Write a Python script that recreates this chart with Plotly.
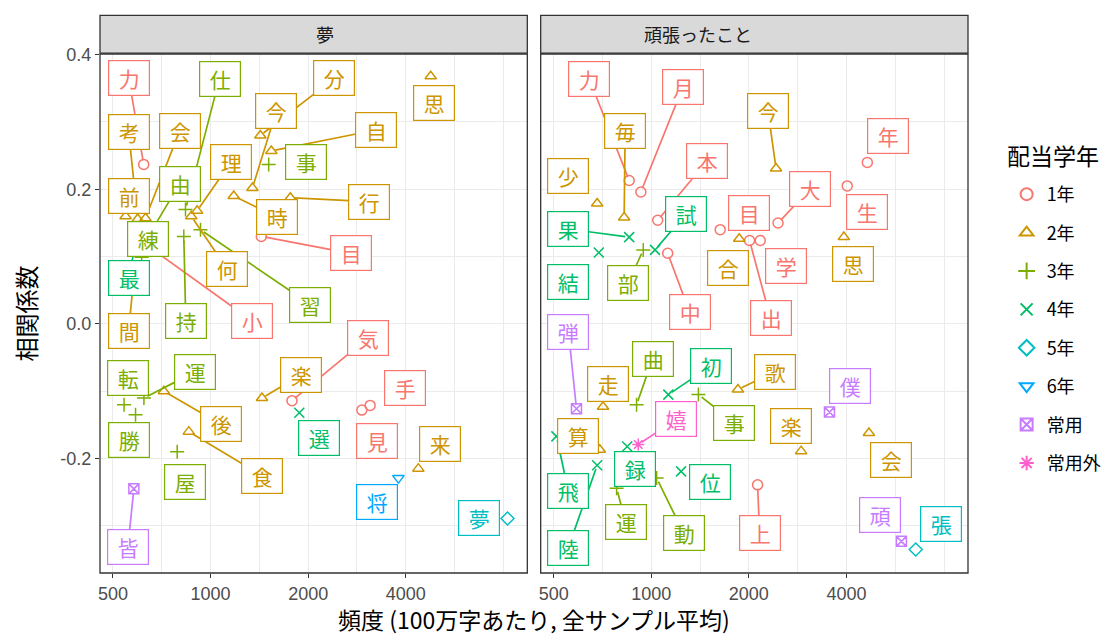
import math
import plotly.graph_objects as go

# ---------------- data ----------------
grades = ["1年", "2年", "3年", "4年", "5年", "6年", "常用", "常用外"]
grade_colors = ["#F8766D", "#CD9600", "#7CAE00", "#00BE67", "#00BFC4", "#00A9FF", "#C77CFF", "#FF61CC"]
grade_symbols = ["circle-open", "triangle-up-open", "cross-thin-open", "x-thin-open",
                 "diamond-open", "triangle-down-open", "square-x-open", "asterisk-open"]

facet_titles = ["夢", "頑張ったこと"]

# facet 1: 夢
yume_kanji = ["力", "考", "会", "前", "仕", "分", "今", "自", "時", "行", "事", "目", "理", "何", "習",
              "由", "練", "小", "最", "間", "持", "転", "運", "勝", "後", "楽", "気", "選", "手", "見",
              "来", "屋", "食", "将", "夢", "皆", "思"]
yume_grade = ["1年", "2年", "2年", "2年", "3年", "2年", "2年", "2年", "2年", "2年", "3年", "1年", "2年", "2年", "3年",
              "3年", "3年", "1年", "4年", "2年", "3年", "3年", "3年", "3年", "2年", "2年", "1年", "4年", "1年", "1年",
              "2年", "3年", "2年", "6年", "5年", "常用", "2年"]
yume_freq = [622, 596, 630, 547, 837, 1424, 1346, 1540, 1179, 1762, 1511, 1434, 909, 872, 931,
             644, 613, 662, 587, 575, 827, 541, 623, 587, 718, 1441, 1783, 1878, 3106, 2929,
             4375, 789, 857, 3796, 8241, 580, 4775]
yume_corr = [0.237, 0.156, 0.157, 0.160, 0.170, 0.280, 0.202, 0.257, 0.190, 0.1875, 0.237, 0.130, 0.168, 0.160, 0.140,
             0.131, 0.099, 0.111, 0.119, 0.051, 0.130, -0.120, -0.110, -0.135, -0.100, -0.110, -0.114, -0.132, -0.121, -0.128,
             -0.215, -0.190, -0.160, -0.229, -0.289, -0.245, 0.368]

# facet 2: 頑張ったこと
gamb_kanji = ["力", "月", "毎", "今", "年", "少", "本", "大", "生", "試", "目", "思", "果", "結", "部",
              "中", "出", "合", "学", "弾", "曲", "走", "初", "事", "歌", "楽", "僕", "嬉", "算", "飛",
              "陸", "録", "運", "動", "位", "上", "会", "頑", "張"]
gamb_grade = ["1年", "1年", "2年", "2年", "1年", "2年", "1年", "1年", "1年", "4年", "1年", "2年", "4年", "4年", "3年",
              "1年", "1年", "2年", "1年", "常用", "3年", "2年", "4年", "3年", "2年", "2年", "常用", "常用外", "2年", "4年",
              "4年", "4年", "3年", "3年", "4年", "1年", "2年", "常用", "5年"]
gamb_freq = [855, 929, 825, 2426, 4640, 681, 1047, 2461, 4023, 1027, 1632, 3927, 855, 689, 945,
             1124, 2010, 1868, 2169, 588, 901, 710, 1129, 1398, 1851, 2899, 3546, 912, 694, 510,
             681, 843, 782, 1039, 1236, 2128, 4693, 5910, 6544]
gamb_corr = [0.213, 0.196, 0.158, 0.231, 0.240, 0.179, 0.154, 0.150, 0.205, 0.110, 0.140, 0.129, 0.129, 0.106, 0.110,
             0.105, 0.124, 0.1265, 0.124, -0.126, -0.120, -0.123, -0.105, -0.105, -0.0975, -0.189, -0.131, -0.179, -0.187, -0.167,
             -0.210, -0.182, -0.244, -0.229, -0.219, -0.239, -0.162, -0.323, -0.335]

# ---------------- label placement (repelled offsets, px) ----------------
yume_label_dx = [-15, -9, 34, 3, 34, 74, 24, 105, 43, 79, 37, 90, 34, 36, 110,
                 31, 6, 100, -7, -4, 2, 4, 51, -7, 57, 39, 76, 20, 35, 15,
                 22, 8, 73, -21, -29, -6, 3]
yume_label_dy = [-86, -87, -87, -20, -131, -57, -77, -21, 21, 4, -2, 17, -49, 53, 75,
                 -52, -18, 72, 34, 41, 85, -27, -26, 25, 33, -23, -63, 25, -17, 31,
                 -25, 30, 44, 24, 0, 58, 27]
yume_segment = [1, 1, 1, 0, 1, 1, 1, 1, 1, 1, 0, 1, 1, 1, 1,
                1, 0, 1, 1, 1, 1, 0, 1, 0, 1, 1, 1, 0, 0, 0,
                0, 0, 1, 0, 0, 1, 0]

gamb_label_dx = [-40, 42, 1, -8, 21, -29, 49, 32, 20, 31, 29, 9, -61, -31, -15,
                 22, 21, -11, 26, -8, 16, 5, 43, 36, 37, -10, 21, 38, -22, 12,
                 -29, 8, 9, 27, 29, 2, 22, -21, 25]
gamb_label_dy = [-102, -105, -87, -57, -26, -27, -59, -34, 26, -36, -17, 27, -8, 29, 33,
                 59, 78, 29, 26, -77, -46, -23, -29, 28, -18, -25, -26, -25, -14, 55,
                 83, 23, 34, 55, 11, 48, 27, -26, -25]
gamb_segment = [1, 1, 1, 1, 0, 0, 1, 1, 0, 1, 0, 0, 1, 0, 1,
                1, 1, 0, 0, 1, 1, 0, 1, 1, 1, 0, 0, 1, 0, 1,
                1, 0, 1, 1, 0, 1, 0, 0, 0]

x_ticks = [500, 1000, 2000, 4000]
x_minor = [707, 1414, 2828, 5657, 8000]
y_ticks = [-0.2, 0.0, 0.2, 0.4]
y_minor = [-0.3, -0.1, 0.1, 0.3]

# ---------------- figure ----------------
FONT = "Noto Sans CJK JP"
TICKFONT = "Liberation Sans"
facets = [
    dict(kanji=yume_kanji, grade=yume_grade, freq=yume_freq, corr=yume_corr,
         dx=yume_label_dx, dy=yume_label_dy, seg=yume_segment, xa="x", ya="y"),
    dict(kanji=gamb_kanji, grade=gamb_grade, freq=gamb_freq, corr=gamb_corr,
         dx=gamb_label_dx, dy=gamb_label_dy, seg=gamb_segment, xa="x2", ya="y2"),
]

fig = go.Figure()
shown = set()
for gi, g in enumerate(grades):
    for f in facets:
        idx = [i for i, gg in enumerate(f["grade"]) if gg == g]
        if not idx:
            continue
        fig.add_trace(go.Scatter(
            x=[f["freq"][i] for i in idx], y=[f["corr"][i] for i in idx],
            xaxis=f["xa"], yaxis=f["ya"], mode="markers", name=g,
            legendgroup=g, showlegend=(g not in shown),
            marker=dict(symbol=grade_symbols[gi], size=10, color=grade_colors[gi],
                        line=dict(width=1.5, color=grade_colors[gi])),
            hoverinfo="skip",
        ))
        shown.add(g)

annotations = []
labels = []
for f in facets:
    for i, k in enumerate(f["kanji"]):
        col = grade_colors[grades.index(f["grade"][i])]
        lx = math.log10(f["freq"][i])
        ly = f["corr"][i]
        if f["seg"][i]:
            annotations.append(dict(
                x=lx, y=ly, xref=f["xa"], yref=f["ya"], text=" ",
                showarrow=True, ax=f["dx"][i], ay=f["dy"][i], axref="pixel", ayref="pixel",
                arrowhead=0, arrowwidth=1.7, arrowcolor=col, standoff=4,
                width=36, height=30, borderpad=2, borderwidth=1.2,
                bordercolor="rgba(0,0,0,0)", bgcolor="rgba(0,0,0,0)",
            ))
        labels.append(dict(
            x=lx, y=ly, xref=f["xa"], yref=f["ya"], text=k, showarrow=False,
            xshift=f["dx"][i], yshift=-f["dy"][i], xanchor="center", yanchor="middle",
            font=dict(family=FONT, size=21, color=col),
            width=36, height=30, borderpad=2, borderwidth=1.2,
            bordercolor=col, bgcolor="white",
        ))
annotations += labels

# strip titles, axis title, legend title
strip_y0, strip_y1 = 1.0015, 1.0745
strip_mid = (strip_y0 + strip_y1) / 2
annotations.append(dict(x=0.2462, y=strip_mid, xref="paper", yref="paper", yanchor="middle",
                        text=facet_titles[0], showarrow=False,
                        font=dict(family=FONT, size=18, color="#1A1A1A")))
annotations.append(dict(x=0.7538, y=strip_mid, xref="paper", yref="paper", yanchor="middle",
                        text=facet_titles[1], showarrow=False,
                        font=dict(family=FONT, size=18, color="#1A1A1A")))
annotations.append(dict(x=0.5, y=-0.088, xref="paper", yref="paper", yanchor="middle",
                        text="頻度 (100万字あたり, 全サンプル平均)", showarrow=False, borderpad=0,
                        font=dict(family=FONT, size=23, color="#000000")))
annotations.append(dict(x=1.0438, y=0.805, xref="paper", yref="paper", xanchor="left", yanchor="middle",
                        text="配当学年", showarrow=False, borderpad=0,
                        font=dict(family=FONT, size=23, color="#000000")))

shapes = []
for x0, x1 in [(0, 0.4923), (0.5077, 1)]:
    shapes.append(dict(type="rect", xref="paper", yref="paper", x0=x0, x1=x1,
                       y0=strip_y0, y1=strip_y1, fillcolor="#D9D9D9",
                       line=dict(color="#333333", width=1.3), layer="below"))
for xr, yr in [("x domain", "y domain"), ("x2 domain", "y2 domain")]:
    shapes.append(dict(type="rect", xref=xr, yref=yr, x0=0, x1=1, y0=0, y1=1,
                       line=dict(color="#333333", width=1.3), fillcolor="rgba(0,0,0,0)", layer="above"))

xrange = [2.659, 3.977]
yrange = [-0.370, 0.401]
common_x = dict(type="log", range=xrange, tickvals=x_ticks, ticktext=[str(v) for v in x_ticks],
                showgrid=True, gridcolor="#EBEBEB", gridwidth=1.4, zeroline=False,
                ticks="outside", ticklen=4, tickwidth=1.1, tickcolor="#333333",
                tickfont=dict(family=TICKFONT, size=18, color="#4D4D4D"),
                minor=dict(tickvals=x_minor, showgrid=True, gridcolor="#EBEBEB", gridwidth=0.8, ticks=""),
                showline=False)
common_y = dict(range=yrange, tickvals=y_ticks, ticktext=["-0.2", "0.0", "0.2", "0.4"],
                showgrid=True, gridcolor="#EBEBEB", gridwidth=1.4, zeroline=False,
                minor=dict(tickvals=y_minor, showgrid=True, gridcolor="#EBEBEB", gridwidth=0.8, ticks=""),
                showline=False)

fig.update_layout(
    width=1102, height=627,
    margin=dict(l=92, r=142, t=46, b=62),
    paper_bgcolor="white", plot_bgcolor="white",
    font=dict(family=FONT),
    xaxis=dict(domain=[0, 0.4923], anchor="y", **common_x),
    xaxis2=dict(domain=[0.5077, 1], anchor="y2", **common_x),
    yaxis=dict(anchor="x", ticks="outside", ticklen=4, tickwidth=1.1, tickcolor="#333333",
               tickfont=dict(family=TICKFONT, size=18, color="#4D4D4D"),
               title=dict(text="相関係数", font=dict(family=FONT, size=24, color="#000000"), standoff=18),
               **common_y),
    yaxis2=dict(anchor="x2", matches="y", showticklabels=False, ticks="", **common_y),
    legend=dict(xref="container", x=0.9062, y=0.765, xanchor="left", yanchor="top",
                font=dict(family=FONT, size=18, color="#000000"),
                tracegroupgap=12, itemsizing="constant", bgcolor="rgba(0,0,0,0)"),
    annotations=annotations,
    shapes=shapes,
)

fig.write_html("out.html")
